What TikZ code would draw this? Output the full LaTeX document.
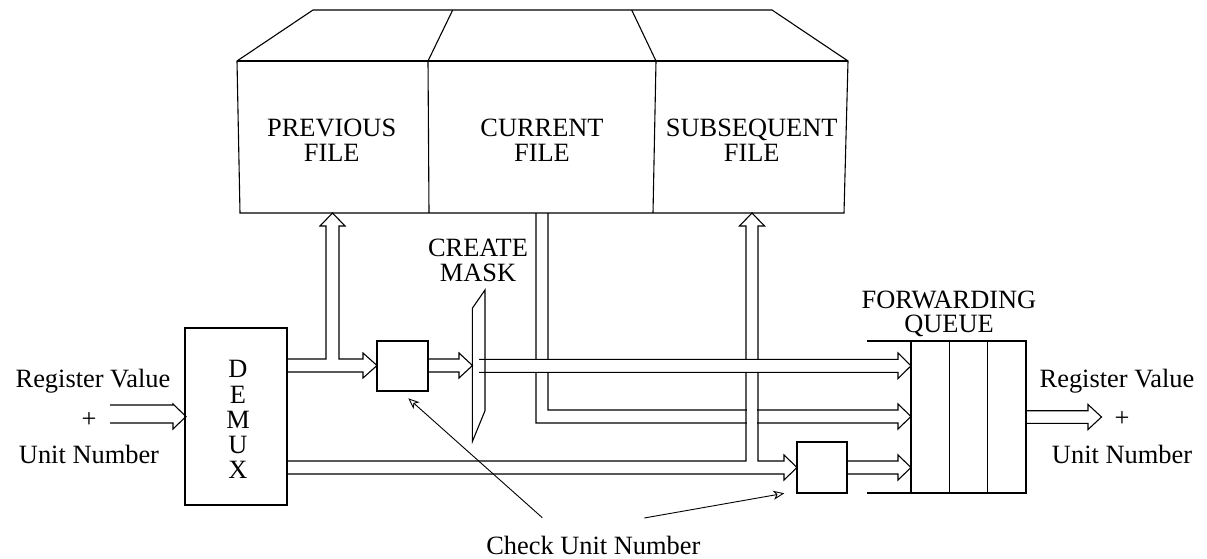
\documentclass[tikz,border=0pt]{standalone}
\usepackage{fontspec}
\setmainfont{Liberation Serif}
\usetikzlibrary{arrows.meta}
\begin{document}
\begin{tikzpicture}[x=1pt,y=-1pt,
  ln/.style={line width=1.1pt, line join=miter},
  txt/.style={font=\fontsize{26.4}{24.5}\selectfont, inner sep=0pt, anchor=base},
  blk/.style={draw, line width=1.1pt, inner sep=0pt},
  ptr/.style={line width=0.9pt, -{Stealth[open,length=11pt,width=9pt,inset=3pt]}}]
\useasboundingbox (0,0) rectangle (1207,559);

% register file block
\draw[ln] (237,61) -- (313,10) -- (772,10) -- (848,61) -- (844,213) -- (240,213) -- cycle;
\draw[ln] (237,61) -- (848,61);
\draw[ln] (452.7,10) -- (428,61) -- (429,213);
\draw[ln] (631.7,10) -- (656,61) -- (653,213);
\node[txt] (prev1) at (331.7,136) {PREVIOUS};
\node[txt] (prev2) at (331.7,161.7) {FILE};
\node[txt] (cur1) at (542,136) {CURRENT};
\node[txt] (cur2) at (542,161.7) {FILE};
\node[txt] (sub1) at (751.7,136) {SUBSEQUENT};
\node[txt] (sub2) at (751.7,161.7) {FILE};

% boxes
\node[blk, minimum width=102pt, minimum height=177pt] (demux) at (236,416.5) {};
\node[txt, align=center, anchor=north, font=\fontsize{26.4}{25.25}\selectfont] (dlab) at (238,360.5) {D\\E\\M\\U\\X};
\node[blk, minimum width=51pt, minimum height=50pt] (chk1) at (402.5,366) {};
\node[blk, minimum width=50pt, minimum height=51pt] (chk2) at (822,467.5) {};

% input bus
\draw[ln] (110,405) -- (173,405) -- (173,404) -- (186,416.5) -- (173,429) -- (173,423) -- (110,423);
\node[txt] (inl1) at (93,387) {Register Value};
\node[txt] (inl2) at (89,427) {+};
\node[txt] (inl3) at (89,463.5) {Unit Number};

% demux upper output: to check box 1 and up to previous file
\draw[ln] (287,372) -- (363,372) -- (363,378) -- (377,365.5) -- (363,353) -- (363,359)
  -- (339,359) -- (339,226) -- (345,226) -- (332.5,213) -- (320,226) -- (326,226) -- (326,359) -- (287,359);
% check box 1 -> mask
\draw[ln] (428,359) -- (459,359) -- (459,353) -- (472.5,365.5) -- (459,378) -- (459,372) -- (428,372);

% current file -> queue
\draw[ln] (536,213) -- (536,423) -- (898,423) -- (898,429) -- (911,416.5) -- (898,404) -- (898,410) -- (548,410) -- (548,213);

% demux lower output: to check box 2 and up to subsequent file
\fill[white] (746.6,226) rectangle (757.4,461);
\draw[ln] (287,474) -- (784,474) -- (784,480) -- (797,467.5) -- (784,455) -- (784,461)
  -- (758,461) -- (758,226) -- (764.5,226) -- (752,213) -- (739.5,226) -- (746,226) -- (746,461) -- (287,461);
% check box 2 -> queue
\draw[ln] (847,461) -- (898,461) -- (898,455) -- (911,467.5) -- (898,480) -- (898,474) -- (847,474);

% mask -> queue
\fill[white] (479,359.6) rectangle (898,371.7);
\draw[ln] (479,359.3) -- (898,359.3) -- (898,353) -- (911,365.8) -- (898,378.5) -- (898,372.3) -- (479,372.3);

% create mask
\draw[ln] (472.3,308.3) -- (485,290) -- (485,410.7) -- (472.3,441.7) -- cycle;
\node[txt] (cm1) at (478,256.7) {CREATE};
\node[txt] (cm2) at (478,281.7) {MASK};

% forwarding queue
\draw[ln] (867,341) -- (1026,341) -- (1026,493) -- (867,493);
\draw[ln] (911,341) -- (911,493);
\draw[ln] (949.3,341) -- (949.3,493);
\draw[ln] (987.7,341) -- (987.7,493);
\node[txt] (fq1) at (949,308.5) {FORWARDING};
\node[txt] (fq2) at (949,332.5) {QUEUE};

% output bus
\draw[ln] (1026,410.7) -- (1088,410.7) -- (1088,404.5) -- (1101.5,417) -- (1088,429.5) -- (1088,423.3) -- (1026,423.3);
\node[txt] (outl1) at (1117,387) {Register Value};
\node[txt] (outl2) at (1122,426) {+};
\node[txt] (outl3) at (1122,463) {Unit Number};

% check unit number
\node[txt] (cun) at (593.3,554.3) {Check Unit Number};
\coordinate (c1) at (542.3,517.7);
\coordinate (c2) at (644.3,518);
\coordinate (t1) at (408.3,398.3);
\coordinate (t2) at (784.3,493.3);
\draw[ptr] (c1) -- (t1);
\draw[ptr] (c2) -- (t2);
\end{tikzpicture}
\end{document}
